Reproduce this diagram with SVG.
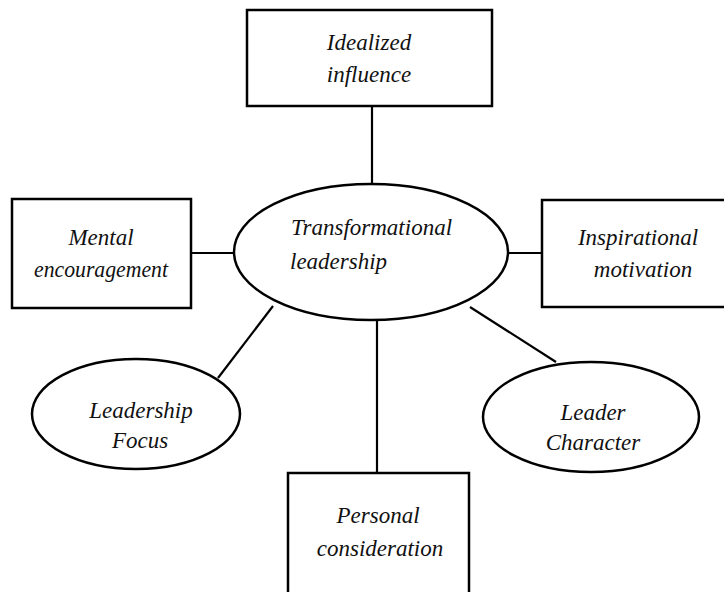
<svg xmlns="http://www.w3.org/2000/svg" width="724" height="592" viewBox="0 0 724 592">
<style>
.shape{fill:#fff;stroke:#000;stroke-width:2.5}
.conn line{stroke:#000;stroke-width:2.2}
.t{font-family:'Liberation Serif','Times New Roman',Times,serif;font-style:italic;font-size:23px;fill:#111}
.c{text-anchor:middle}
</style>
<rect width="724" height="592" fill="#fff"/>
<g id="connectors" class="conn">
<line x1="372" y1="106" x2="372" y2="184"/>
<line x1="191" y1="253" x2="235" y2="253"/>
<line x1="507" y1="253" x2="542" y2="253"/>
<line x1="218" y1="378" x2="273" y2="306"/>
<line x1="470" y1="307" x2="556" y2="362"/>
<line x1="377" y1="319" x2="377" y2="473"/>
</g>
<g id="idealized-influence" class="t">
<rect class="shape" x="247" y="10" width="245" height="96"/>
<text class="c" x="369" y="50">Idealized</text>
<text class="c" x="369" y="82">influence</text>
</g>
<g id="mental-encouragement" class="t">
<rect class="shape" x="12" y="199" width="179" height="109"/>
<text class="c" x="101" y="245">Mental</text>
<text class="c" x="101" y="277" textLength="134" lengthAdjust="spacingAndGlyphs">encouragement</text>
</g>
<g id="transformational-leadership" class="t">
<ellipse class="shape" cx="371" cy="252" rx="137" ry="68"/>
<text x="291" y="235">Transformational</text>
<text x="290" y="269">leadership</text>
</g>
<g id="inspirational-motivation" class="t">
<rect class="shape" x="542" y="200" width="190" height="107"/>
<text class="c" x="638" y="245">Inspirational</text>
<text class="c" x="643" y="277">motivation</text>
</g>
<g id="leadership-focus" class="t">
<ellipse class="shape" cx="136" cy="414" rx="104" ry="55"/>
<text class="c" x="141" y="418">Leadership</text>
<text class="c" x="140" y="448">Focus</text>
</g>
<g id="leader-character" class="t">
<ellipse class="shape" cx="591" cy="417" rx="108" ry="55"/>
<text class="c" x="593" y="420">Leader</text>
<text class="c" x="593" y="450">Character</text>
</g>
<g id="personal-consideration" class="t">
<rect class="shape" x="288" y="473" width="181" height="130"/>
<text class="c" x="378" y="523">Personal</text>
<text class="c" x="380" y="556">consideration</text>
</g>
</svg>
